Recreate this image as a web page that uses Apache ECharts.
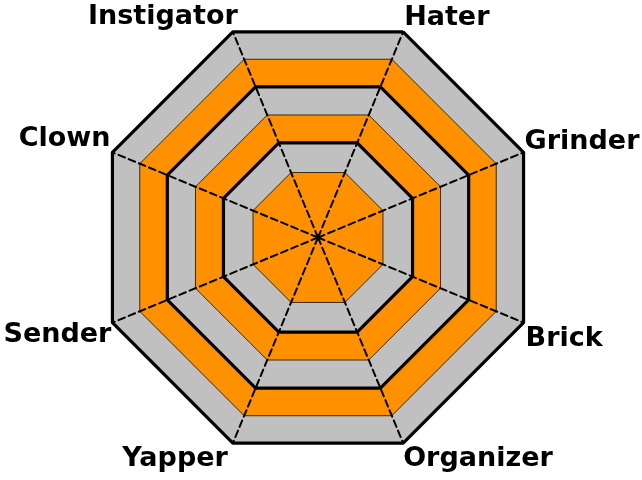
<!DOCTYPE html>
<html>
<head>
<meta charset="utf-8">
<script src="https://cdn.jsdelivr.net/npm/echarts@6/dist/echarts.min.js"></script>
<style>
html,body{margin:0;padding:0;background:#fff;}
#chart{width:642px;height:480px;}
</style>
</head>
<body>
<div id="chart"></div>
<script>
// Indicators, listed counter-clockwise starting at the upper right (Hater)
const indicatorNames = ['Hater', 'Instigator', 'Clown', 'Sender', 'Yapper', 'Organizer', 'Brick', 'Grinder'];
// Ring levels (percent of the full radius), outermost first
const ringLevels = [100, 86.7, 73.3, 59.6, 46.0, 31.6];
const axisMax = 100;

// styles
const ringFills = ['#c0c0c0', '#ff9100'];
const labelPadding = {
  Hater:      [0, 0, 28, 1],
  Instigator: [0, -5, 30, 0],
  Clown:      [0, 2, 26, 0],
  Sender:     [24, 1, 0, 0],
  Yapper:     [31, 5, 0, 0],
  Organizer:  [31, 0, 0, 0],
  Brick:      [33, 0, 0, 2],
  Grinder:    [0, 0, 20, 1]
};
const fontBase = {color: '#000', fontFamily: 'DejaVu Sans', fontWeight: 'bold', fontSize: 27};

const rich = {};
indicatorNames.forEach(n => { rich[n] = Object.assign({padding: labelPadding[n]}, fontBase); });

const chart = echarts.init(document.getElementById('chart'), null, {renderer: 'canvas'});

const indicators = indicatorNames.map(n => ({name: n, min: 0, max: axisMax}));

// filled rings (no outline)
const fillSeries = ringLevels.map((lvl, i) => ({
  type: 'radar',
  z: 1,
  silent: true,
  symbol: 'none',
  areaStyle: {color: ringFills[i % 2], opacity: 1},
  lineStyle: {width: 0, opacity: 0},
  data: [{name: 'fill' + i, value: indicatorNames.map(() => lvl)}]
}));

// ring outlines, drawn above all fills
const lineSeries = ringLevels.map((lvl, i) => ({
  type: 'radar',
  z: 2,
  silent: true,
  symbol: 'none',
  itemStyle: {color: i % 2 === 0 ? '#000' : '#3a2a12'},
  lineStyle: i % 2 === 0
    ? {color: '#000', width: 3.2}
    : {color: '#3a2a12', width: 1},
  data: [{name: 'line' + i, value: indicatorNames.map(() => lvl)}]
}));

chart.setOption({
  animation: false,
  backgroundColor: '#fff',
  radar: {
    center: [318, 237.5],
    radius: 222.5,
    startAngle: 67.5,
    shape: 'polygon',
    nameGap: 0,
    z: 5,
    indicator: indicators,
    axisName: Object.assign({
      formatter: function (name) { return '{' + name + '|' + name + '}'; },
      rich: rich
    }, fontBase),
    axisLine: {show: true, lineStyle: {color: '#000', width: 2, type: [7, 4]}},
    splitLine: {show: false},
    splitArea: {show: false},
    axisTick: {show: false},
    axisLabel: {show: false}
  },
  series: fillSeries.concat(lineSeries)
});
</script>
</body>
</html>
